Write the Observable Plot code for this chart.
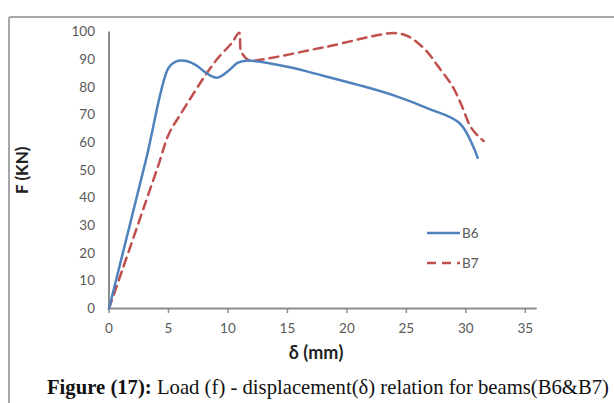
<!DOCTYPE html>
<html>
<head>
<meta charset="utf-8">
<script src="https://cdn.jsdelivr.net/npm/d3@7"></script>
<script src="https://cdn.jsdelivr.net/npm/@observablehq/plot@0.6"></script>
<style>
  html, body { margin: 0; padding: 0; background: #fff; }
  #wrap { position: relative; width: 614px; height: 403px; overflow: hidden; }
  #frame { position: absolute; left: 8px; top: 16px; width: 700px; height: 500px;
           border-left: 2px solid #a6a6a6; border-top: 2px solid #a6a6a6; border-top-left-radius: 3px; }
  #chart { position: absolute; left: 0; top: 0; }
  #legend { position: absolute; left: 427px; top: 224px; font-family: Lato, "Open Sans", sans-serif;
            font-size: 13.5px; color: #595959; }
  .lg { display: flex; align-items: center; height: 18px; margin-bottom: 12px; }
  .lg svg { margin-right: 1px; }
  #caption { position: absolute; left: 0; top: 376px; width: 614px; text-align: right;
             font-family: "Liberation Serif", "Times New Roman", serif; font-size: 20.7px; color: #111;
             white-space: nowrap; padding-right: 5px; box-sizing: border-box; }
</style>
</head>
<body>
<div id="wrap">
  <div id="frame"></div>
  <div id="chart"></div>
  <div id="legend"></div>
  <div id="caption"></div>
</div>
<script>
const seriesNames = ["B6", "B7"];
const seriesColors = ["#4f81bd", "#c0504d"];
const b6Disp = [0, 3.1, 5.0, 5.6, 6.4, 7.3, 8.3, 9.1, 10.0, 10.8, 11.5, 12.0, 15.0, 18.0, 21.0, 24.0, 26.9, 29.5, 31.0];
const b6Load = [0, 53.6, 87.0, 89.3, 89.6, 88.0, 84.8, 83.5, 85.8, 88.8, 89.6, 89.6, 87.4, 84.2, 80.8, 77.0, 72.2, 66.9, 54.5];
const b7Disp = [0, 4.1, 5.05, 6.05, 7.2, 8.2, 9.15, 10.3, 10.95, 11.1, 11.7, 12.0, 18.0, 24.0, 25.2, 26.6, 27.7, 28.9, 29.7, 30.4, 31.1, 31.5];
const b7Load = [0, 51.2, 63.3, 70.5, 78.4, 85.0, 90.5, 95.9, 99.7, 93.0, 89.9, 89.6, 94.4, 99.6, 98.3, 93.5, 87.4, 80.2, 72.9, 65.7, 62.1, 60.6];
const xTicks = [0, 5, 10, 15, 20, 25, 30, 35];
const yTicks = [0, 10, 20, 30, 40, 50, 60, 70, 80, 90, 100];
const xLabel = "δ (mm)";
const yLabel = "F (KN)";
const captionBold = "Figure (17):";
const captionRest = " Load (f) - displacement(δ) relation for beams(B6&B7)";

const b6 = b6Disp.map((d, i) => ({x: d, y: b6Load[i]}));
const b7 = b7Disp.map((d, i) => ({x: d, y: b7Load[i]}));

const axisColor = "#8c8c8c";
const font = "Lato, 'Open Sans', sans-serif";

const plot = Plot.plot({
  width: 614,
  height: 368,
  marginLeft: 108.5,
  marginRight: 77.3,
  marginTop: 31.5,
  marginBottom: 60,
  style: {fontFamily: font, background: "transparent", overflow: "visible"},
  x: {domain: [0, 36]},
  y: {domain: [0, 100]},
  marks: [
    Plot.ruleX([0], {stroke: axisColor, strokeWidth: 2}),
    Plot.ruleY([0], {stroke: axisColor, strokeWidth: 2}),
    Plot.axisX({ticks: xTicks, tickSize: 5, tickPadding: 10, stroke: axisColor, strokeWidth: 1.5,
                fill: "#595959", fontSize: 13.5, label: null, tickFormat: d => String(d)}),
    Plot.axisY({ticks: yTicks, tickSize: 0, tickPadding: 14, fill: "#595959", fontSize: 13.5,
                label: null, tickFormat: d => String(d)}),
    Plot.line(b7, {x: "x", y: "y", stroke: seriesColors[1], strokeWidth: 2.5, strokeDasharray: "9,6",
                   curve: "catmull-rom"}),
    Plot.line(b6, {x: "x", y: "y", stroke: seriesColors[0], strokeWidth: 2.5, curve: "catmull-rom"}),
    Plot.text([yLabel], {frameAnchor: "left", textAnchor: "middle", lineAnchor: "middle", dx: -86, rotate: -90,
                         fontWeight: "bold", fontSize: 17, fill: "#222", fontFamily: font}),
    Plot.text([xLabel], {frameAnchor: "bottom", dx: -7, dy: 50, fontWeight: "bold", fontSize: 18,
                         fill: "#222", fontFamily: font})
  ]
});
document.getElementById("chart").appendChild(plot);

const legend = document.getElementById("legend");
seriesNames.forEach((name, i) => {
  const row = document.createElement("div");
  row.className = "lg";
  const dash = i === 1 ? 'stroke-dasharray="9,6"' : '';
  row.innerHTML = `<svg width="34" height="6"><line x1="0" y1="3" x2="33" y2="3" stroke="${seriesColors[i]}" stroke-width="2.5" ${dash}/></svg><span>${name}</span>`;
  legend.appendChild(row);
});

const cap = document.getElementById("caption");
cap.innerHTML = `<b></b><span></span>`;
cap.querySelector("b").textContent = captionBold;
cap.querySelector("span").textContent = captionRest;
</script>
</body>
</html>
